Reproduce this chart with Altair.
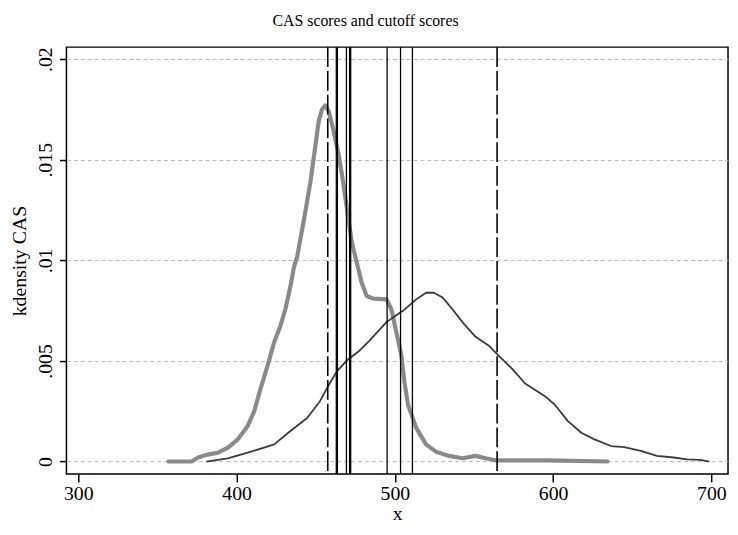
import altair as alt
import pandas as pd

# Thick gray density curve
gray_x = [357.0, 371.5, 375.7, 380.8, 388.3, 394.6, 400.8, 407.0, 411.2, 415.2, 419.6, 423.8,
          427.7, 430.8, 434.0, 436.3, 438.3, 442.5, 446.5, 449.6, 451.9, 454.0, 455.9, 458.2,
          461.3, 464.4, 466.5, 469.6, 472.8, 475.9, 479.0, 482.2, 486.4, 494.7, 497.8, 500.9,
          504.1, 506.0, 508.3, 513.5, 519.7, 526.0, 534.1, 542.7, 551.0, 557.3, 563.5, 596.7, 634.3]
gray_y = [0.0, 0.0, 0.00020, 0.00033, 0.00044, 0.00069, 0.00110, 0.00177, 0.00251, 0.00364,
          0.00477, 0.00595, 0.00674, 0.00757, 0.00870, 0.00969, 0.01019, 0.01200, 0.01382,
          0.01559, 0.01692, 0.01751, 0.01770, 0.01741, 0.01643, 0.01529, 0.01431, 0.01264,
          0.01090, 0.00990, 0.00890, 0.00823, 0.00810, 0.00806, 0.00757, 0.00644, 0.00528,
          0.00398, 0.00282, 0.00167, 0.00085, 0.00049, 0.00028, 0.00016, 0.00028, 0.00016,
          0.00006, 0.00006, 0.0]

# Thin dark density curve
dark_x = [380.9, 394.5, 407.0, 423.8, 434.0, 444.6, 452.7, 458.2, 463.4, 469.6, 477.8, 484.0,
          494.7, 505.1, 513.5, 519.7, 524.7, 530.2, 536.4, 542.7, 551.0, 559.2, 565.4, 574.0,
          582.3, 594.8, 601.1, 609.2, 617.8, 626.1, 636.6, 644.9, 655.4, 665.6, 676.2, 684.4,
          692.9, 698.7]
dark_y = [0.0, 0.00016, 0.00044, 0.00085, 0.00152, 0.00216, 0.00300, 0.00380, 0.00448,
          0.00502, 0.00552, 0.00601, 0.00693, 0.00749, 0.00806, 0.00839, 0.00839, 0.00815,
          0.00757, 0.00693, 0.00620, 0.00577, 0.00528, 0.00462, 0.00388, 0.00325, 0.00282,
          0.00202, 0.00143, 0.00110, 0.00077, 0.00072, 0.00053, 0.00028, 0.00020, 0.00011,
          0.00008, 0.0]

solid_cutoffs = [463.0, 463.7, 469.4, 471.4, 472.1, 495.1, 503.6, 511.1]
dashed_cutoffs = [457.6, 564.6]

x_ticks = [300, 400, 500, 600, 700]
y_ticks = [0, 0.005, 0.01, 0.015, 0.02]

gray_df = pd.DataFrame({"x": gray_x, "y": gray_y})
dark_df = pd.DataFrame({"x": dark_x, "y": dark_y})
solid_df = pd.DataFrame({"c": solid_cutoffs})
dashed_df = pd.DataFrame({"c": dashed_cutoffs})

FONT = "Liberation Serif"
xscale = alt.Scale(domain=[292.5, 710.5], nice=False, zero=False)
yscale = alt.Scale(domain=[-0.00062, 0.0206], nice=False, zero=False)

xaxis = alt.Axis(values=x_ticks, title="x", grid=False, domain=False, tickSize=8,
                 tickColor="black", tickWidth=1.5, labelPadding=2, labelFontSize=20,
                 titleFontSize=20, labelFont=FONT, titleFont=FONT, titleFontWeight="normal",
                 labelColor="black", titleColor="black", titlePadding=0, format="d")
yaxis = alt.Axis(values=y_ticks, title="kdensity CAS", grid=True, gridDash=[4, 3],
                 gridColor="#b8b8b8", gridWidth=1, domain=False, tickSize=7,
                 tickColor="black", tickWidth=1.5, labelAngle=270, labelAlign="center",
                 labelBaseline="alphabetic", labelPadding=8, labelFontSize=20,
                 titleFontSize=20, labelFont=FONT, titleFont=FONT, titleFontWeight="normal",
                 labelColor="black", titleColor="black", titlePadding=6,
                 labelExpr="datum.value == 0 ? '0' : substring(format(datum.value, '.3~f'), 1)")

base_solid = alt.Chart(solid_df).mark_rule(color="black", strokeWidth=1.3).encode(
    x=alt.X("c:Q", scale=xscale, axis=xaxis))
base_dashed = alt.Chart(dashed_df).mark_rule(color="black", strokeWidth=1.6,
                                             strokeDash=[20, 4]).encode(
    x=alt.X("c:Q", scale=xscale, axis=xaxis))

gray_line = alt.Chart(gray_df).mark_line(color="#8a8a8a", strokeWidth=4.2,
                                         strokeCap="round", strokeJoin="round").encode(
    x=alt.X("x:Q", scale=xscale, axis=xaxis),
    y=alt.Y("y:Q", scale=yscale, axis=yaxis))
dark_line = alt.Chart(dark_df).mark_line(color="#3a3a3a", strokeWidth=1.8,
                                         strokeJoin="round").encode(
    x=alt.X("x:Q", scale=xscale, axis=xaxis),
    y=alt.Y("y:Q", scale=yscale, axis=yaxis))

chart = alt.layer(gray_line, dark_line, base_dashed, base_solid).properties(
    width=668, height=431,
    title=alt.TitleParams("CAS scores and cutoff scores", font=FONT, fontSize=16,
                          fontWeight="normal", color="black", offset=18, dx=-32),
    autosize=alt.AutoSizeParams(type="none"),
    padding={"left": 59, "top": 37, "right": 2, "bottom": 50},
).configure(background="white",
            view=alt.ViewConfig(stroke="black", strokeWidth=1.5))

chart.save("out.html", embed_options={"renderer": "svg", "actions": False})
